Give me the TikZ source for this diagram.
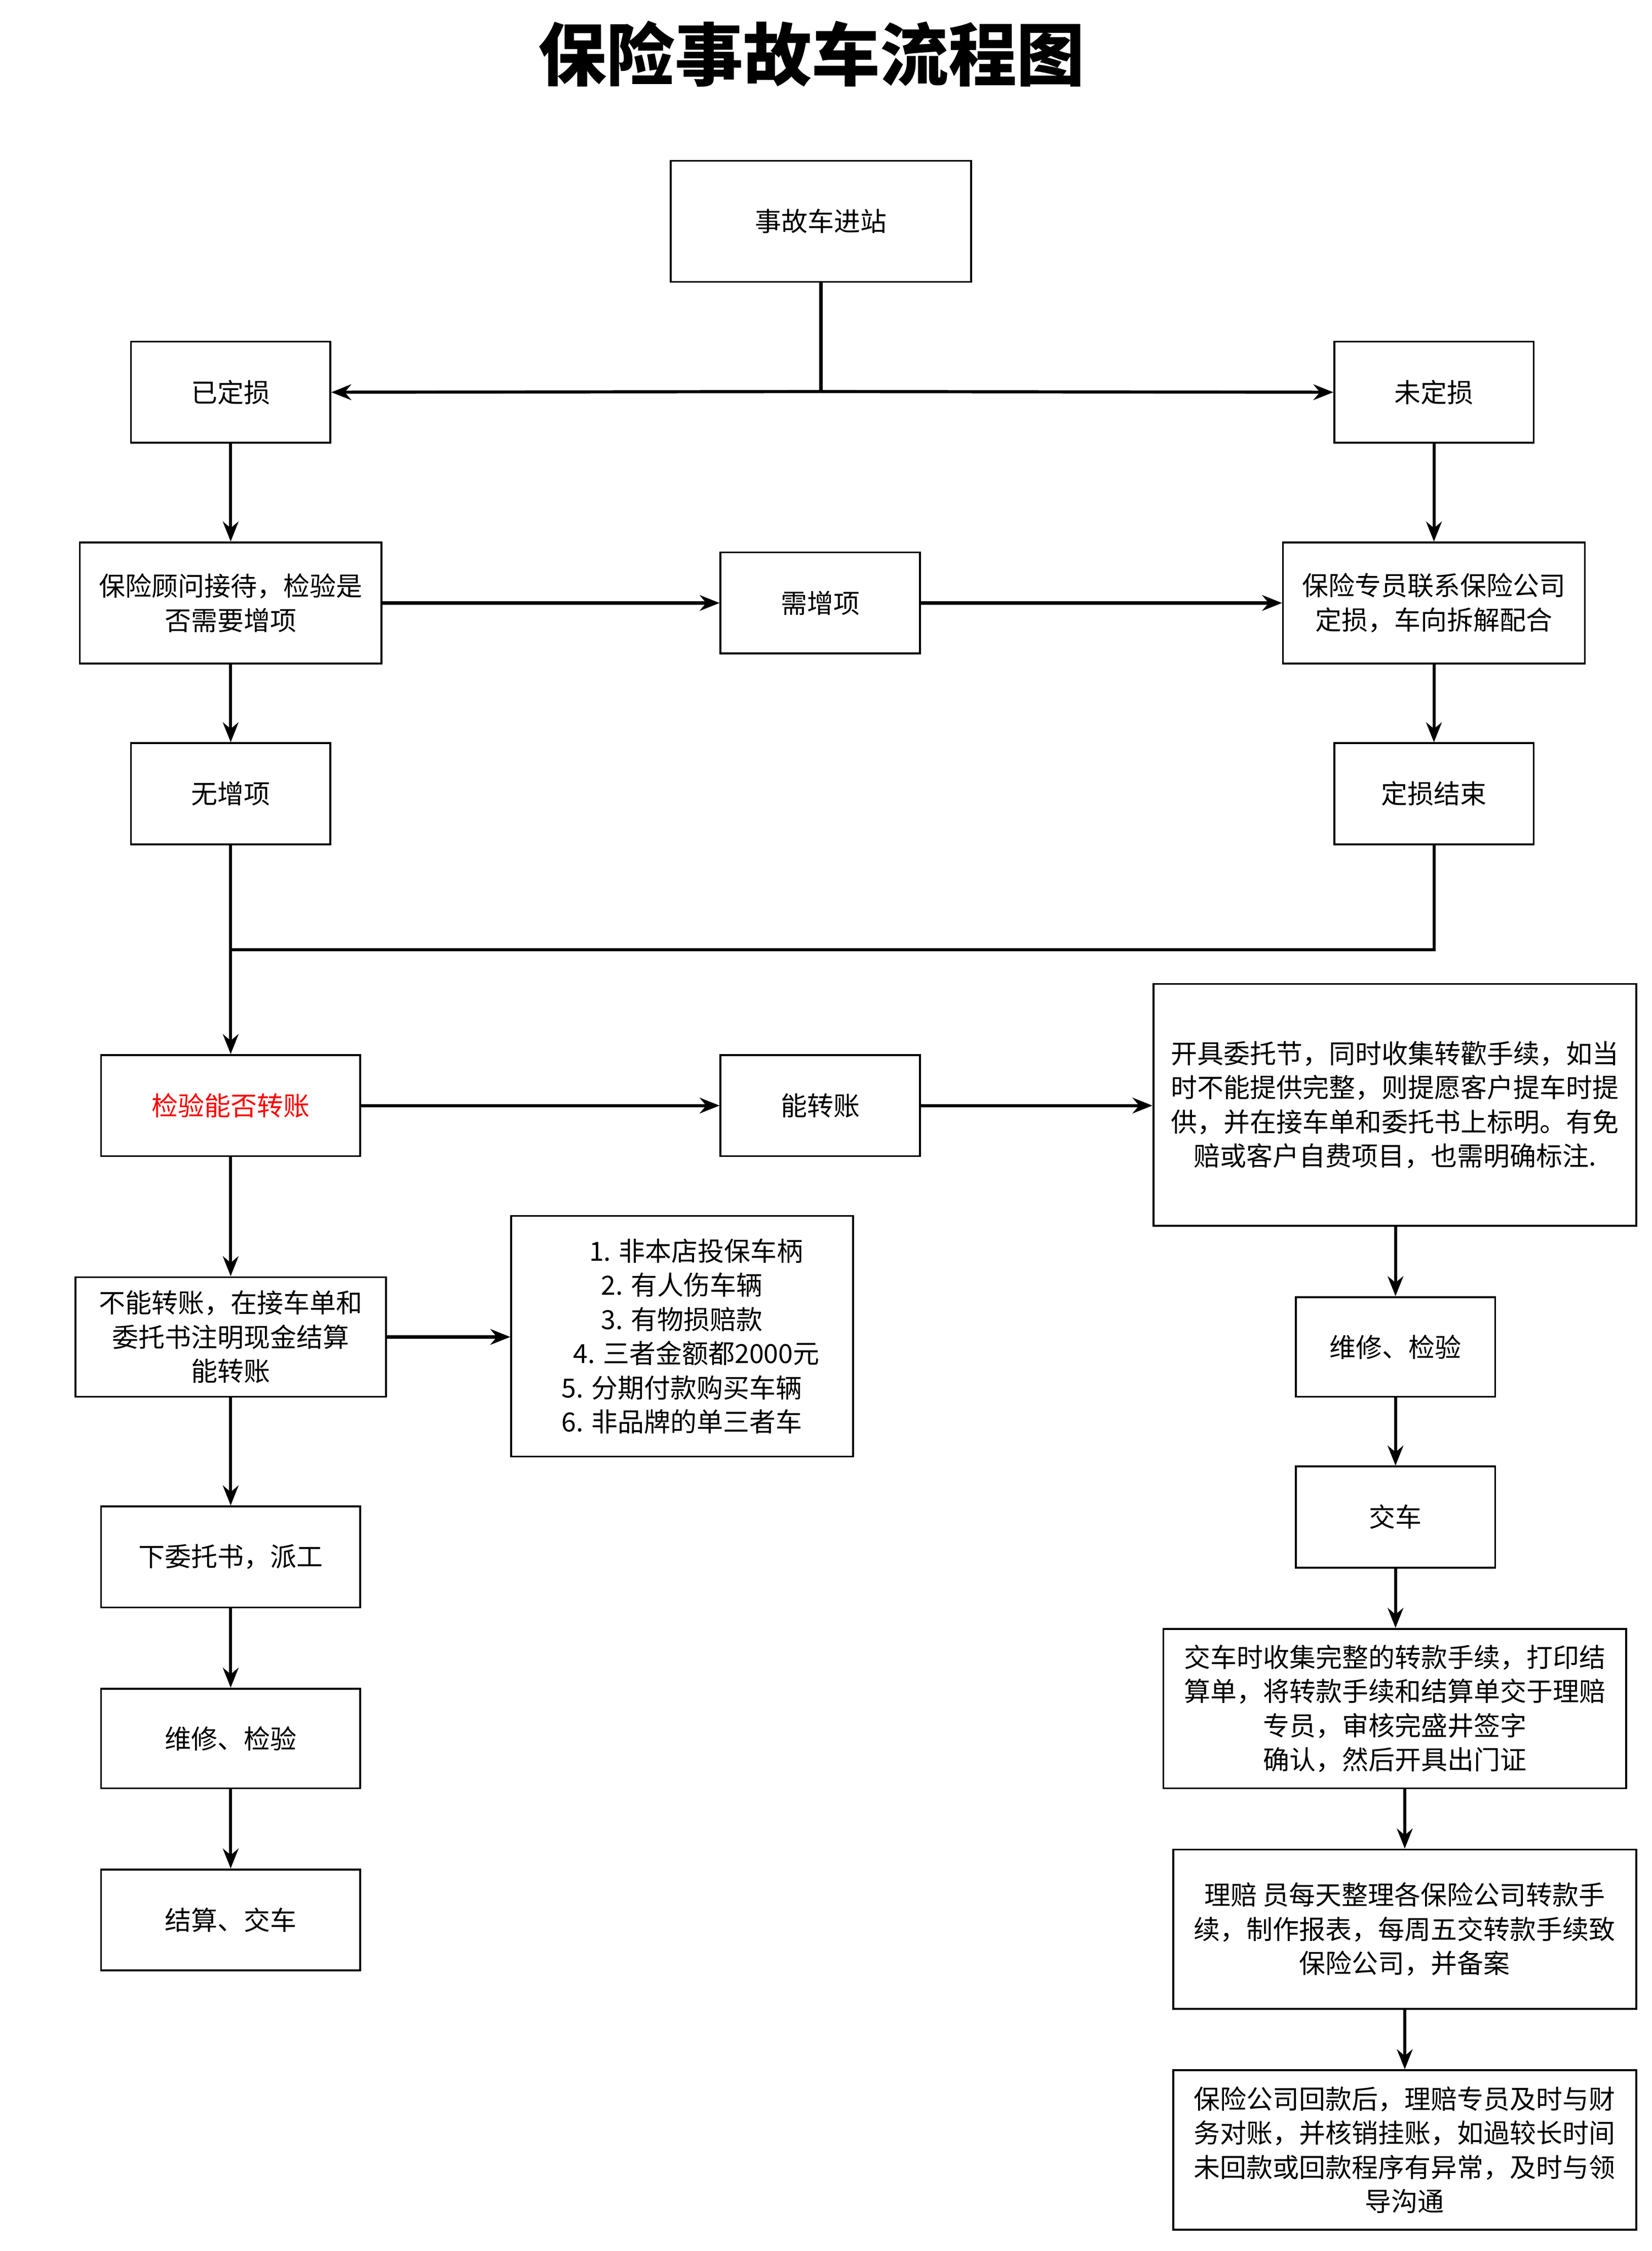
\documentclass[tikz,border=0pt]{standalone}
\usepackage{fontspec}
\setmainfont{Noto Sans CJK SC}
\usetikzlibrary{arrows.meta}
\begin{document}
\begin{tikzpicture}[x=1pt,y=-1pt,
 box/.style={draw,line width=1.3pt,align=center,font=\fontsize{18.5}{24}\selectfont,inner sep=1pt},
 arr/.style={line width=2.2pt,-{Stealth[length=14pt,width=11pt]}},
 ln/.style={line width=2.2pt}]
\useasboundingbox (0,0) rectangle (1160,1581);
\def\B#1#2#3#4#5#6{\node[box,minimum width=#4-#2,minimum height=#5-#3] (#1) at ({(#2+#4)/2},{(#3+#5)/2}) {#6};}
\node[font=\fontsize{48}{52}\selectfont\bfseries] (title) at (570,38) {保险事故车流程图};
\B{start}{471}{113}{682}{198}{事故车进站}
\B{yd}{92}{240}{232}{311}{已定损}
\B{wd}{937}{240}{1077}{311}{未定损}
\B{gw}{56}{381}{268}{466}{保险顾问接待，检验是\\否需要增项}
\B{xz}{506}{388}{646}{459}{需增项}
\B{zy}{901}{381}{1113}{466}{保险专员联系保险公司\\定损，车向拆解配合}
\B{wz}{92}{522}{232}{593}{无增项}
\B{dj}{937}{522}{1077}{593}{定损结束}
\B{jy}{71}{741}{253}{812}{\textcolor{red}{检验能否转账}}
\B{nz}{506}{741}{646}{812}{能转账}
\B{kj}{810}{691}{1149}{861}{开具委托节，同时收集转歡手续，如当\\时不能提供完整，则提愿客户提车时提\\供，并在接车单和委托书上标明。有免\\赔或客户自费项目，也需明确标注.}
\B{bn}{53}{897}{271}{981}{不能转账，在接车单和\\委托书注明现金结算\\能转账}
\B{list}{359}{854}{599}{1023}{\hspace*{20pt}1. 非本店投保车柄\\\hspace*{0pt}2. 有人伤车辆\\\hspace*{0pt}3. 有物损赔款\\\hspace*{20pt}4. 三者金额都2000元\\5. 分期付款购买车辆\\6. 非品牌的单三者车}
\B{xw}{71}{1058}{253}{1129}{下委托书，派工}
\B{wx1}{71}{1186}{253}{1256}{维修、检验}
\B{js}{71}{1313}{253}{1384}{结算、交车}
\B{wx2}{910}{911}{1050}{981}{维修、检验}
\B{jc}{910}{1030}{1050}{1101}{交车}
\B{jcs}{817}{1144}{1142}{1256}{交车时收集完整的转款手续，打印结\\算单，将转款手续和结算单交于理赔\\专员，审核完盛井签字\\确认，然后开具出门证}
\B{lp}{824}{1299}{1149}{1411}{理赔 员每天整理各保险公司转款手\\续，制作报表，每周五交转款手续致\\保险公司，并备案}
\B{bx}{824}{1454}{1149}{1566}{保险公司回款后，理赔专员及时与财\\务对账，并核销挂账，如過较长时间\\未回款或回款程序有异常，及时与领\\导沟通}
\coordinate (sp) at (start.south |- 0,275);
\draw[ln] (start.south) -- (sp);
\draw[arr] (sp) -- (yd.east);
\draw[arr] (sp) -- (wd.west);
\draw[arr] (yd) -- (gw);
\draw[arr] (gw) -- (xz);
\draw[arr] (xz) -- (zy);
\draw[arr] (wd) -- (zy);
\draw[arr] (gw) -- (wz);
\draw[arr] (zy) -- (dj);
\draw[arr] (wz) -- (jy);
\coordinate (mj) at (wz.south |- 0,667);
\draw[ln] (dj.south) |- (mj);
\draw[arr] (jy) -- (nz);
\draw[arr] (nz) -- (kj.west |- nz);
\draw[arr] (jy) -- (bn);
\draw[arr] (bn) -- (list.west |- bn);
\draw[arr] (bn) -- (xw);
\draw[arr] (xw) -- (wx1);
\draw[arr] (wx1) -- (js);
\draw[arr] (kj.south -| wx2) -- (wx2);
\draw[arr] (wx2) -- (jc);
\draw[arr] (jc) -- (jc.south |- jcs.north);
\draw[arr] (lp.north |- jcs.south) -- (lp.north);
\draw[arr] (lp) -- (bx);
\end{tikzpicture}
\end{document}
